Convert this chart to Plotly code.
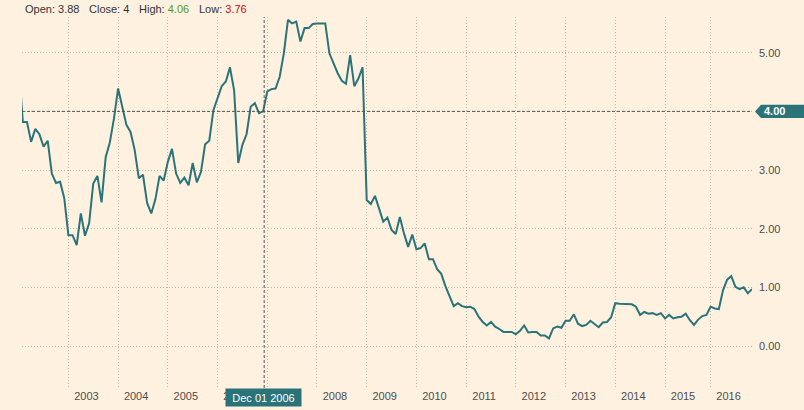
import plotly.graph_objects as go

# ---- data (monthly values) ----
y2002 = [4.8, 3.82, 3.82, 3.48, 3.70, 3.61, 3.40, 3.50, 2.94, 2.78, 2.80, 2.52]
y2003 = [1.89, 1.89, 1.72, 2.26, 1.88, 2.09, 2.77, 2.90, 2.45, 3.22, 3.47, 3.88]
y2004 = [4.39, 4.08, 3.77, 3.65, 3.34, 2.86, 2.92, 2.44, 2.26, 2.50, 2.90, 2.82]
y2005 = [3.14, 3.36, 2.94, 2.78, 2.87, 2.74, 3.12, 2.79, 2.97, 3.44, 3.50, 4.02]
y2006 = [4.24, 4.43, 4.51, 4.75, 4.36, 3.12, 3.43, 3.61, 4.08, 4.14, 3.97, 4.00]
y2007 = [4.34, 4.38, 4.39, 4.59, 4.99, 5.56, 5.50, 5.53, 5.19, 5.42, 5.42, 5.49]
y2008 = [5.50, 5.50, 5.50, 4.99, 4.82, 4.65, 4.52, 4.47, 4.96, 4.43, 4.56, 4.75]
y2009 = [2.49, 2.42, 2.56, 2.33, 2.12, 2.19, 1.98, 1.91, 2.20, 1.92, 1.69, 1.90]
y2010 = [1.65, 1.67, 1.75, 1.48, 1.48, 1.31, 1.23, 1.02, 0.84, 0.68, 0.73, 0.68]
y2011 = [0.66, 0.67, 0.63, 0.50, 0.41, 0.35, 0.41, 0.33, 0.29, 0.24, 0.24, 0.24]
y2012 = [0.20, 0.26, 0.35, 0.23, 0.24, 0.24, 0.18, 0.18, 0.13, 0.30, 0.33, 0.31]
y2013 = [0.43, 0.43, 0.54, 0.38, 0.34, 0.36, 0.43, 0.38, 0.32, 0.40, 0.41, 0.49]
y2014 = [0.73, 0.72, 0.72, 0.72, 0.71, 0.67, 0.53, 0.58, 0.55, 0.56, 0.53, 0.56]
y2015 = [0.47, 0.53, 0.47, 0.49, 0.50, 0.55, 0.44, 0.36, 0.45, 0.51, 0.53]
y2016 = [0.67, 0.64, 0.63, 0.95, 1.13, 1.19, 1.01, 0.97, 1.00, 0.90, 0.97]

years = list(range(2002, 2017))
series = [y2002, y2003, y2004, y2005, y2006, y2007, y2008, y2009,
          y2010, y2011, y2012, y2013, y2014, y2015, y2016]

tick_years = list(range(2003, 2017))
tick_labels = [str(y) for y in tick_years]
y_ticks = [0, 1, 2, 3, 4, 5]

cross_cat = "2006-12"
cross_value = 4.00
cross_label = "Dec 01 2006"
hdr_open, hdr_close, hdr_high, hdr_low = "3.88", "4", "4.06", "3.76"

# ---- build ----
categories, values = [], []
for yr, vals in zip(years, series):
    for i, v in enumerate(vals):
        categories.append(f"{yr}-{i + 1:02d}")
        values.append(v)

W, H = 804, 410
ML, MR, MT, MB = 22, 52, 17, 22
PW = W - ML - MR
PH = H - MT - MB
YMIN, YMAX = -0.716, 5.609
XR = [0.8, 177.0]

BG = "#fff1e0"
TEAL = "#2a7479"
GRID = "rgba(160,145,125,0.6)"
TXT = "#4d4d4d"
FONT = "Liberation Sans, Arial, sans-serif"


def px(x):
    return (x - ML) / PW


def py(y):
    return (H - MB - y) / PH


fig = go.Figure()
fig.add_trace(go.Scatter(
    x=categories, y=values, mode="lines",
    line=dict(color=TEAL, width=2), hoverinfo="skip", showlegend=False,
))

cross_idx = categories.index(cross_cat)
h = 6.6 / (PH / (YMAX - YMIN))

shapes = [
    dict(type="line", xref="paper", yref="y", x0=0, x1=1, y0=cross_value, y1=cross_value,
         line=dict(color="#555555", width=1, dash="3px,2px")),
    dict(type="line", xref="x", yref="paper", x0=cross_idx + 0.25, x1=cross_idx + 0.25, y0=0, y1=1,
         line=dict(color="#555555", width=1, dash="3px,2px")),
    dict(type="path", xref="paper", yref="y",
         path=(f"M {px(755)},{cross_value} L {px(761)},{cross_value + h} "
               f"L {px(804)},{cross_value + h} L {px(804)},{cross_value - h} "
               f"L {px(761)},{cross_value - h} Z"),
         fillcolor=TEAL, line=dict(width=0)),
]

annotations = [
    dict(xref="paper", yref="y", x=px(762), y=cross_value, xanchor="left", yanchor="middle",
         text=f"<b>{cross_value:.2f}</b>", showarrow=False,
         font=dict(color="white", size=11, family=FONT)),
    dict(xref="x", yref="paper", x=cross_idx, y=py(397.5), xanchor="center", yanchor="middle",
         text=cross_label, showarrow=False, bgcolor=TEAL, borderpad=0, width=75, height=17,
         font=dict(color="white", size=11, family=FONT)),
]

hdr = [
    (22.5, f"Open: {hdr_open}"),
    (87, f"Close: {hdr_close}"),
    (137, f"High: <span style='color:#5b9a16'>{hdr_high}</span>"),
    (197, f"Low: <span style='color:#d3091e'>{hdr_low}</span>"),
]
for x0, t in hdr:
    annotations.append(dict(xref="paper", yref="paper", x=px(x0), y=py(9.5),
                            xanchor="left", yanchor="middle", text=t, showarrow=False,
                            font=dict(color="#333333", size=11, family=FONT)))

fig.update_layout(
    width=W, height=H, autosize=False,
    margin=dict(l=ML, r=MR, t=MT, b=MB, pad=0, autoexpand=False),
    paper_bgcolor=BG, plot_bgcolor=BG,
    showlegend=False,
    shapes=shapes, annotations=annotations,
    xaxis=dict(
        type="category", categoryorder="array", categoryarray=categories,
        range=XR, tickmode="array", automargin=False,
        tickvals=[f"{y}-01" for y in tick_years], ticktext=tick_labels,
        showgrid=True, gridcolor=GRID, griddash="1px,2px", gridwidth=1,
        showline=False, zeroline=False, ticks="",
        ticklabelshift=18, ticklabelstandoff=0,
        tickfont=dict(size=11, color=TXT, family=FONT),
    ),
    yaxis=dict(
        side="right", range=[YMIN, YMAX], tickmode="array", tickvals=y_ticks,
        ticktext=["" if t == cross_value else f"{t:.2f}" for t in y_ticks],
        automargin=False,
        showgrid=True, gridcolor=GRID, griddash="1px,2px", gridwidth=1,
        showline=False, zeroline=False, ticks="",
        ticklabelstandoff=6,
        tickfont=dict(size=11, color=TXT, family=FONT),
    ),
)

fig.write_html("out.html")
